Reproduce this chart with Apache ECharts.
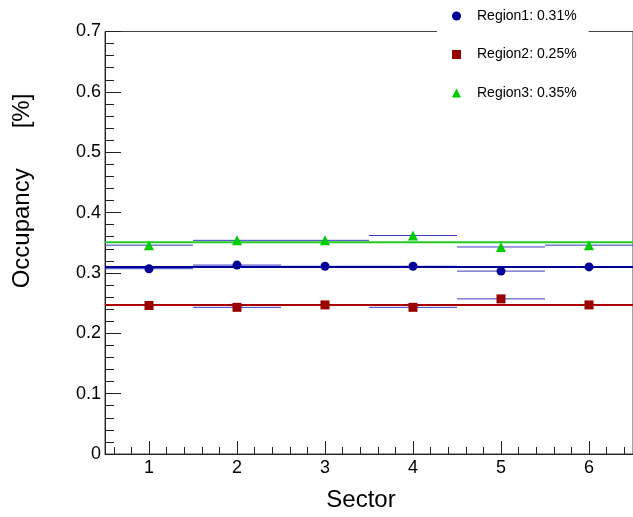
<!DOCTYPE html>
<html>
<head>
<meta charset="utf-8">
<script src="https://cdn.jsdelivr.net/npm/echarts@6/dist/echarts.min.js"></script>
<style>
  html, body { margin: 0; padding: 0; background: #fff; }
  #main { width: 633px; height: 517px; }
</style>
</head>
<body>
<div id="main"></div>
<script>
// 数据
var sectors = [1, 2, 3, 4, 5, 6];
var regionNames = ['Region1', 'Region2', 'Region3'];
var region1 = [0.307, 0.313, 0.311, 0.311, 0.303, 0.310];
var region2 = [0.246, 0.243, 0.247, 0.243, 0.257, 0.247];
var region3 = [0.346, 0.354, 0.354, 0.362, 0.343, 0.346];
var means = [0.310, 0.247, 0.351];
var xTickLabels = [1, 2, 3, 4, 5, 6];

var colors = ['#000099', '#990000', '#00cc00'];
var lineColors = ['#000099', '#aa0000', '#22cc22'];
var symbols = ['circle', 'rect', 'triangle'];
var values = [region1, region2, region3];
var font = '"Liberation Sans", Arial, sans-serif';
var xMin = 0.5, xMax = 6.5;

// 副刻度 0.2 间隔
var minorTicks = [];
for (var t = 6; t <= 64; t += 2) {
    if (t % 10 != 0) minorTicks.push(t / 10);
}

var myChart = echarts.init(document.getElementById('main'));

var series = [];
var names = [];
values.forEach(function (vals, k) {
    var pts = sectors.map(function (s, i) { return [s, vals[i]]; });
    var name = regionNames[k] + ': ' + means[k].toFixed(2) + '%';
    names.push(name);
    // 每个扇区的水平误差线
    series.push({
        type: 'custom',
        xAxisIndex: 0,
        z: 1,
        silent: true,
        data: pts,
        renderItem: function (params, api) {
            var x = api.value(0), y = api.value(1);
            var p1 = api.coord([x - 0.5, y]);
            var p2 = api.coord([x + 0.5, y]);
            return {
                type: 'line',
                shape: { x1: p1[0], y1: p1[1], x2: p2[0], y2: p2[1] },
                style: { stroke: '#3a3ac0', lineWidth: 1 }
            };
        }
    });
    // 拟合的平均值
    series.push({
        type: 'line',
        xAxisIndex: 0,
        z: 3,
        silent: true,
        symbol: 'none',
        lineStyle: { color: lineColors[k], width: 2 },
        data: [[xMin, means[k]], [xMax, means[k]]]
    });
    series.push({
        name: name,
        type: 'scatter',
        xAxisIndex: 0,
        z: 10,
        symbol: symbols[k],
        symbolSize: symbols[k] == 'triangle' ? 10 : 9,
        itemStyle: { color: colors[k], opacity: 1 },
        data: pts
    });
});

var option = {
    animation: false,
    grid: {
        left: 105, right: -2, top: 31.5, bottom: 61,
        show: true, borderColor: '#444', borderWidth: 1
    },
    legend: {
        data: names,
        orient: 'vertical',
        left: 437,
        top: 0,
        padding: [8, 12, 10, 15],
        backgroundColor: '#fff',
        itemWidth: 9,
        itemHeight: 9,
        itemGap: 22.5,
        itemStyle: { opacity: 1 },
        textStyle: { fontFamily: font, fontSize: 14, color: '#000', lineHeight: 16, padding: [0, 0, 0, 11] }
    },
    xAxis: [{
        type: 'value',
        min: xMin,
        max: xMax,
        name: 'Sector',
        nameLocation: 'middle',
        nameGap: 34,
        nameTextStyle: { fontFamily: font, fontSize: 24, color: '#000', padding: [0, 16, 0, 0] },
        splitLine: { show: false },
        axisLine: { lineStyle: { color: '#222', width: 1 } },
        axisTick: { inside: true, length: 13, customValues: xTickLabels, lineStyle: { color: '#222' } },
        axisLabel: { customValues: xTickLabels, fontFamily: font, fontSize: 18, color: '#000', margin: 5 }
    }, {
        type: 'value',
        min: xMin,
        max: xMax,
        position: 'bottom',
        splitLine: { show: false },
        axisLine: { show: false },
        axisTick: { inside: true, length: 7, customValues: minorTicks, lineStyle: { color: '#222' } },
        axisLabel: { show: false }
    }],
    yAxis: {
        type: 'value',
        min: 0,
        max: 0.7,
        interval: 0.1,
        splitLine: { show: false },
        axisLine: { show: true, lineStyle: { color: '#222', width: 1 } },
        axisTick: { inside: true, length: 16, lineStyle: { color: '#222' } },
        minorTick: { show: true, splitNumber: 5, length: 9, lineStyle: { color: '#222' } },
        axisLabel: { fontFamily: font, fontSize: 18, color: '#000', margin: 4 }
    },
    graphic: [{
        type: 'text',
        x: 22,
        y: 191,
        rotation: Math.PI / 2,
        style: {
            text: 'Occupancy      [%]',
            font: '24px ' + font,
            fill: '#000',
            textAlign: 'center',
            textVerticalAlign: 'middle'
        }
    }],
    series: series
};

myChart.setOption(option);
</script>
</body>
</html>
